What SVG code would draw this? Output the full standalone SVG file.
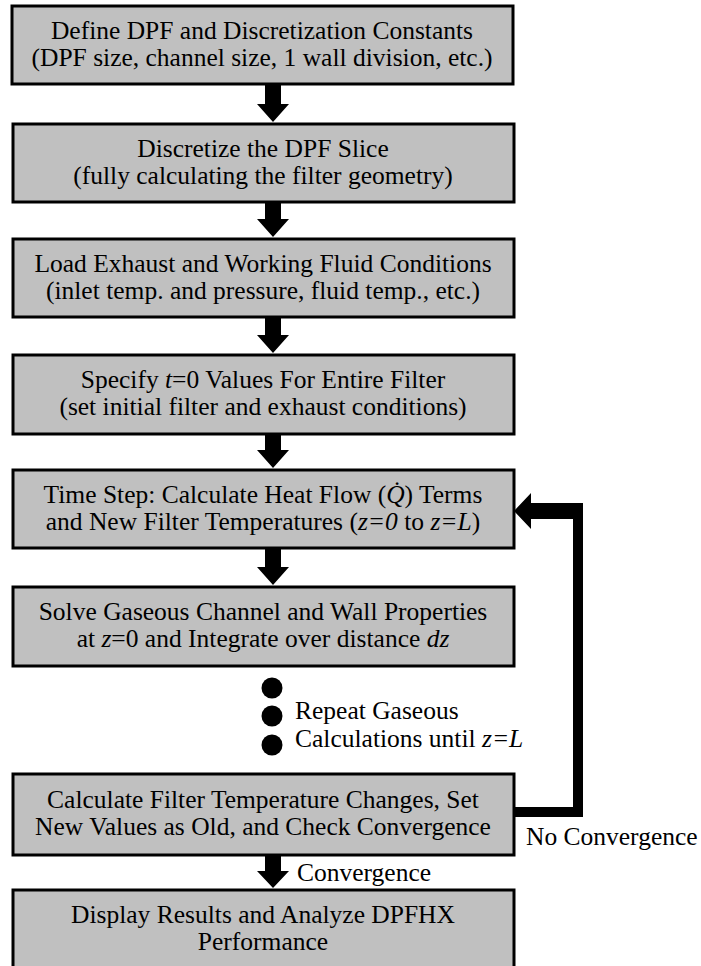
<svg xmlns="http://www.w3.org/2000/svg" width="701" height="966" viewBox="0 0 701 966">
<style>
.box{fill:#c0c0c0;stroke:#000;stroke-width:3}
.t{font-family:"Liberation Serif","Times New Roman",serif;font-size:25.5px;fill:#000;text-anchor:middle}
.l{font-family:"Liberation Serif","Times New Roman",serif;font-size:25.5px;fill:#000}
.i{font-style:italic}
.ar{fill:#000}
</style>
<rect width="701" height="966" fill="#fff"/>
<g id="n1"><rect class="box" x="12" y="6" width="501" height="78"/>
<text class="t" x="262" y="39">Define DPF and Discretization Constants</text>
<text class="t" x="262" y="66">(DPF size, channel size, 1 wall division, etc.)</text></g>
<g id="n2"><rect class="box" x="13" y="124" width="501" height="78"/>
<text class="t" x="263" y="157">Discretize the DPF Slice</text>
<text class="t" x="263" y="184">(fully calculating the filter geometry)</text></g>
<g id="n3"><rect class="box" x="13" y="239" width="501" height="78"/>
<text class="t" x="263" y="272">Load Exhaust and Working Fluid Conditions</text>
<text class="t" x="263" y="299">(inlet temp. and pressure, fluid temp., etc.)</text></g>
<g id="n4"><rect class="box" x="13" y="355" width="501" height="79"/>
<text class="t" x="263" y="388">Specify <tspan class="i">t</tspan>=0 Values For Entire Filter</text>
<text class="t" x="263" y="415">(set initial  filter and exhaust conditions)</text></g>
<g id="n5"><rect class="box" x="13" y="470" width="501" height="78"/>
<text class="t" x="263" y="503">Time Step: Calculate Heat Flow (<tspan class="i">Q̇</tspan>) Terms</text>
<text class="t" x="263" y="530">and New Filter Temperatures (<tspan class="i">z=0</tspan> to <tspan class="i">z=L</tspan>)</text></g>
<g id="n6"><rect class="box" x="13" y="587" width="501" height="79"/>
<text class="t" x="263" y="620">Solve Gaseous Channel and Wall Properties</text>
<text class="t" x="263" y="647">at <tspan class="i">z</tspan>=0 and Integrate over distance <tspan class="i">dz</tspan></text></g>
<g id="n7"><rect class="box" x="13" y="774" width="501" height="81"/>
<text class="t" x="263" y="808">Calculate Filter Temperature Changes, Set</text>
<text class="t" x="263" y="835">New Values as Old, and Check Convergence</text></g>
<g id="n8"><rect class="box" x="13" y="890" width="501" height="80"/>
<text class="t" x="263" y="923">Display Results and Analyze DPFHX</text>
<text class="t" x="263" y="950">Performance</text></g>
<g id="repeat">
<circle cx="272" cy="688" r="10.5" fill="#000"/>
<circle cx="272" cy="716" r="10.5" fill="#000"/>
<circle cx="272" cy="745" r="10.5" fill="#000"/>
<text class="l" x="295" y="719">Repeat Gaseous</text>
<text class="l" x="295" y="747">Calculations until <tspan class="i">z=L</tspan></text>
</g>
<g id="connectors">
<polygon class="ar" points="265,84 281,84 281,104 289,104 273,122 257,104 265,104"/>
<polygon class="ar" points="265,202 281,202 281,219 289,219 273,237 257,219 265,219"/>
<polygon class="ar" points="265,317 281,317 281,335 289,335 273,353 257,335 265,335"/>
<polygon class="ar" points="265,434 281,434 281,450 289,450 273,468 257,450 265,450"/>
<polygon class="ar" points="265,548 281,548 281,567 289,567 273,585 257,567 265,567"/>
<polygon class="ar" points="265,855 281,855 281,871 289,871 273,888 257,871 265,871"/>
<polygon class="ar" points="513,807 573,807 573,519 531,519 531,529 514,511 531,493 531,503 583,503 583,817 513,817"/>
<text class="l" x="526" y="845">No Convergence</text>
<text class="l" x="297" y="881">Convergence</text>
</g>
</svg>
